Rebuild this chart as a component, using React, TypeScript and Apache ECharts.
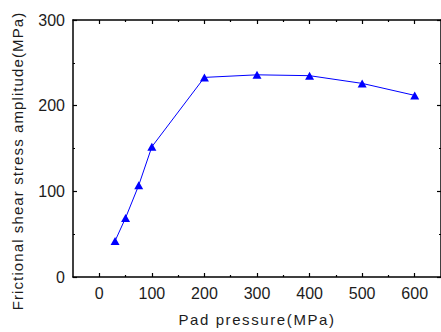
import React, { useEffect, useRef } from "react";
import * as echarts from "echarts";

// Pad pressure (MPa) vs. frictional shear stress amplitude (MPa)
const padPressure = [30, 50, 75, 100, 200, 300, 400, 500, 600];
const shearAmplitude = [42, 69, 107, 152, 233, 236, 235, 226, 212];

const xMajorTicks = [0, 100, 200, 300, 400, 500, 600];
const xMinorTicks = [50, 150, 250, 350, 450, 550];

const xTitle = "Pad pressure(MPa)";
const yTitle = "Frictional shear stress amplitude(MPa)";

const FONT = "'Liberation Sans', Arial, sans-serif";
const INK = "#1c1c1c";
const LINE = "#0000ff";

// extra tracking applied to the SVG text nodes (zrender has no letterSpacing)
const tracking: Record<string, string> = {
  [xTitle]: "1.6",
  [yTitle]: "1.1",
};

export default function App() {
  const ref = useRef<HTMLDivElement>(null);

  useEffect(() => {
    if (!ref.current) return;
    const chart = echarts.init(ref.current, undefined, { renderer: "svg" });

    const axisLine = { show: true, onZero: false, lineStyle: { color: "#000", width: 1.5 } };
    const hiddenLine = { show: false, onZero: false };
    const hidden = { show: false };
    const tickStyle = { color: "#000", width: 1.2 };

    const xBase = {
      type: "value" as const,
      min: -50,
      max: 650,
      splitLine: hidden,
    };

    chart.setOption({
      animation: false,
      backgroundColor: "#fff",
      grid: { left: 73, right: -2, top: 20, bottom: 51, containLabel: false },
      xAxis: [
        {
          ...xBase,
          position: "bottom",
          axisLine,
          axisTick: { show: true, inside: true, length: 4, customValues: xMajorTicks, lineStyle: tickStyle },
          axisLabel: {
            customValues: xMajorTicks,
            margin: 8,
            color: INK,
            fontFamily: FONT,
            fontSize: 16,
          },
          name: xTitle,
          nameLocation: "middle",
          nameGap: 35,
          nameTextStyle: { color: INK, fontFamily: FONT, fontSize: 15 },
        },
        {
          ...xBase,
          position: "bottom",
          axisLine: hiddenLine,
          axisTick: { show: true, inside: true, length: 2, customValues: xMinorTicks, lineStyle: tickStyle },
          axisLabel: hidden,
        },
        {
          ...xBase,
          position: "top",
          axisLine,
          axisTick: { show: true, inside: true, length: 4, customValues: xMajorTicks, lineStyle: tickStyle },
          axisLabel: hidden,
        },
        {
          ...xBase,
          position: "top",
          axisLine: hiddenLine,
          axisTick: { show: true, inside: true, length: 2, customValues: xMinorTicks, lineStyle: tickStyle },
          axisLabel: hidden,
        },
      ],
      yAxis: [
        {
          type: "value",
          position: "left",
          min: 0,
          max: 300,
          interval: 100,
          splitLine: hidden,
          axisLine,
          axisTick: { show: true, inside: true, length: 4, lineStyle: tickStyle },
          minorTick: { show: true, splitNumber: 2, length: 2, lineStyle: tickStyle },
          axisLabel: { margin: 8, color: INK, fontFamily: FONT, fontSize: 16 },
        },
        {
          type: "value",
          position: "right",
          min: 0,
          max: 300,
          interval: 100,
          splitLine: hidden,
          axisLine,
          axisTick: { show: true, inside: true, length: 4, lineStyle: tickStyle },
          minorTick: { show: true, splitNumber: 2, length: 2, lineStyle: tickStyle },
          axisLabel: hidden,
        },
      ],
      graphic: [
        {
          type: "text",
          x: 17,
          y: 161,
          rotation: Math.PI / 2,
          style: {
            text: yTitle,
            fill: INK,
            font: `15px ${FONT}`,
            textAlign: "center",
            textVerticalAlign: "middle",
          },
        },
      ],
      series: [
        {
          type: "line",
          xAxisIndex: 0,
          yAxisIndex: 0,
          data: padPressure.map((p, i) => [p, shearAmplitude[i]]),
          symbol: "triangle",
          symbolSize: [9, 8],
          showAllSymbol: true,
          lineStyle: { color: LINE, width: 1 },
          itemStyle: { color: LINE },
        },
      ],
    });

    const applyTracking = () => {
      ref.current?.querySelectorAll("text").forEach((t) => {
        const sp = tracking[(t.textContent || "").trim()];
        if (sp) t.setAttribute("letter-spacing", sp);
      });
    };
    applyTracking();
    chart.on("finished", applyTracking);

    return () => chart.dispose();
  }, []);

  return (
    <div
      ref={ref}
      style={{ position: "fixed", left: 0, top: 0, width: 441, height: 332 }}
    />
  );
}
